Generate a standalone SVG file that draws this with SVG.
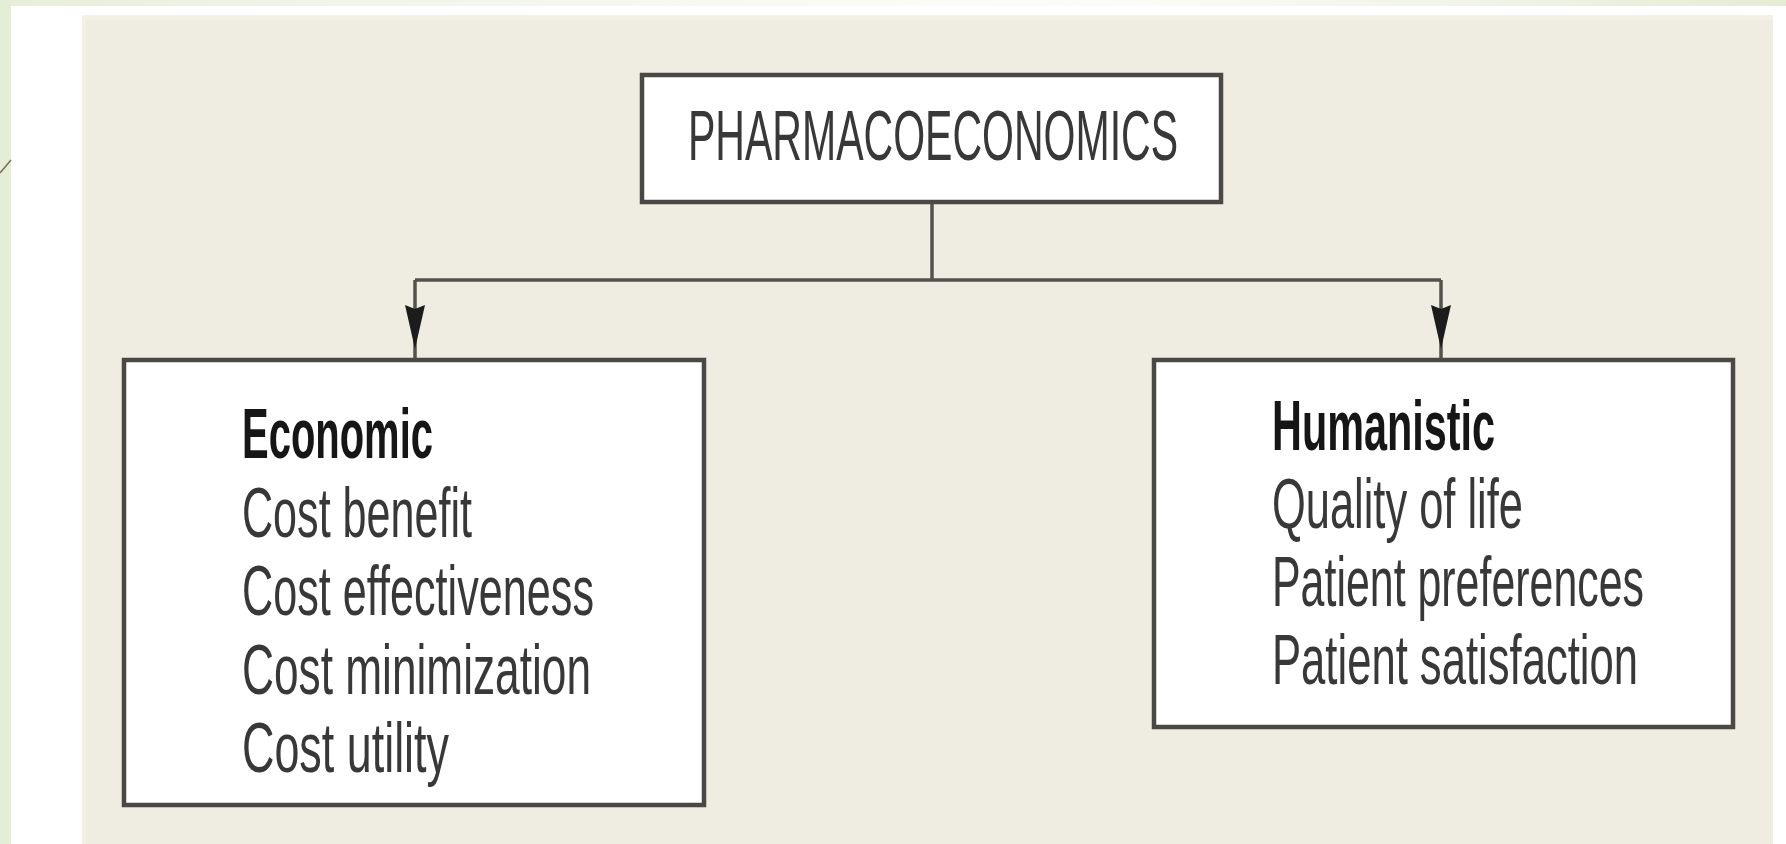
<svg xmlns="http://www.w3.org/2000/svg" width="1786" height="844" viewBox="0 0 1786 844">
  <defs>
    <linearGradient id="topband" x1="0" y1="0" x2="1" y2="0">
      <stop offset="0" stop-color="#e7eed8"/>
      <stop offset="0.2" stop-color="#f2f5ea"/>
      <stop offset="0.6" stop-color="#fcfdf9"/>
      <stop offset="0.75" stop-color="#f5f7ee"/>
      <stop offset="1" stop-color="#e5ecd4"/>
    </linearGradient>
  </defs>
  <style>
    .box { fill: #ffffff; stroke: #4a4844; stroke-width: 4.5; }
    .conn { fill: none; stroke: #55524c; stroke-width: 3.5; }
    .head { fill: #1c1c1c; }
    .t { font-family: "Liberation Sans", Arial, sans-serif; font-size: 71px; fill: #383838; }
    .h { font-family: "Liberation Sans", Arial, sans-serif; font-size: 71px; font-weight: bold; fill: #161616; }
  </style>

  <!-- background -->
  <rect x="0" y="0" width="1786" height="844" fill="#ffffff"/>
  <rect x="0" y="0" width="1786" height="6" fill="url(#topband)"/>
  <rect x="0" y="0" width="11" height="844" fill="#e6edd6"/>
  <line x1="0" y1="173" x2="11" y2="160" stroke="#7d705c" stroke-width="1.6"/>
  <rect x="82" y="15" width="1691" height="829" fill="#efece1"/>
  <rect x="82" y="15" width="1691" height="5" fill="#f2f0e7"/>
  <rect x="82" y="15" width="4" height="829" fill="#f2f0e7"/>

  <!-- connectors -->
  <g id="connectors">
    <line class="conn" x1="932" y1="203" x2="932" y2="280"/>
    <line class="conn" x1="415" y1="280" x2="1441" y2="280" stroke-width="4"/>
    <line class="conn" x1="415" y1="280" x2="415" y2="358"/>
    <line class="conn" x1="1441" y1="280" x2="1441" y2="358"/>
    <path class="head" d="M405,305 L415,309 L425,305 L415,349 Z"/>
    <path class="head" d="M1431,305 L1441,309 L1451,305 L1441,349 Z"/>
  </g>

  <!-- top node -->
  <g id="node-pharmacoeconomics">
    <rect class="box" x="642" y="75" width="579" height="127"/>
    <g transform="translate(688,0) scale(0.6,1)">
      <text class="t" x="0" y="160" textLength="816.7" lengthAdjust="spacingAndGlyphs">PHARMACOECONOMICS</text>
    </g>
  </g>

  <!-- economic node -->
  <g id="node-economic">
    <rect class="box" x="124" y="360" width="580" height="445"/>
    <g transform="translate(242,0) scale(0.6,1)">
      <text class="h" x="0" y="458" textLength="318.3" lengthAdjust="spacingAndGlyphs">Economic</text>
      <text class="t" x="0" y="537" textLength="383.3" lengthAdjust="spacingAndGlyphs">Cost benefit</text>
      <text class="t" x="0" y="615" textLength="586.7" lengthAdjust="spacingAndGlyphs">Cost effectiveness</text>
      <text class="t" x="0" y="694" textLength="581.7" lengthAdjust="spacingAndGlyphs">Cost minimization</text>
      <text class="t" x="0" y="772" textLength="345" lengthAdjust="spacingAndGlyphs">Cost utility</text>
    </g>
  </g>

  <!-- humanistic node -->
  <g id="node-humanistic">
    <rect class="box" x="1154" y="360" width="579" height="367"/>
    <g transform="translate(1272,0) scale(0.6,1)">
      <text class="h" x="0" y="450" textLength="371.7" lengthAdjust="spacingAndGlyphs">Humanistic</text>
      <text class="t" x="0" y="528" textLength="418.3" lengthAdjust="spacingAndGlyphs">Quality of life</text>
      <text class="t" x="0" y="606" textLength="620" lengthAdjust="spacingAndGlyphs">Patient preferences</text>
      <text class="t" x="0" y="684" textLength="610" lengthAdjust="spacingAndGlyphs">Patient satisfaction</text>
    </g>
  </g>
</svg>
